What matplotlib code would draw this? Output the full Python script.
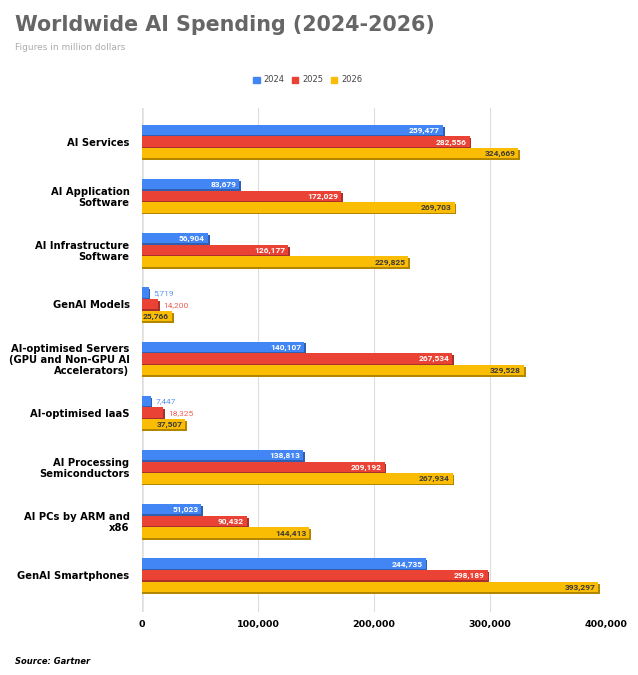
import numpy as np
import matplotlib
matplotlib.use("Agg")
import matplotlib.pyplot as plt
from matplotlib.patches import Patch

# dados (milhões de dólares)
categories = [
    "AI Services",
    "AI Application\nSoftware",
    "AI Infrastructure\nSoftware",
    "GenAI Models",
    "AI-optimised Servers\n(GPU and Non-GPU AI\nAccelerators)",
    "AI-optimised IaaS",
    "AI Processing\nSemiconductors",
    "AI PCs by ARM and\nx86",
    "GenAI Smartphones",
]
years = ["2024", "2025", "2026"]
spend_2024 = [259477, 83679, 56904, 5719, 140107, 7447, 138813, 51023, 244735]
spend_2025 = [282556, 172029, 126177, 14200, 267534, 18325, 209192, 90432, 298189]
spend_2026 = [324669, 269703, 229825, 25766, 329528, 37507, 267934, 144413, 393297]
x_ticks = [0, 100000, 200000, 300000, 400000]

colors = ["#4285F4", "#EA4335", "#FBBC04"]
shadow_colors = ["#2f5fae", "#a8302a", "#b38600"]
label_colors = ["white", "white", "#3a3a3a"]
out_colors = ["#5b93f5", "#ee5f55", "#3a3a3a"]

fig = plt.figure(figsize=(6.38, 6.75), dpi=100)
ax = fig.add_axes([0.2226, 0.0933, 0.7268, 0.7467])

y = np.arange(len(categories))
pitch = 0.215
bh = 0.19
dx, dy = 1500, 0.035

series = [spend_2024, spend_2025, spend_2026]
for i, vals in enumerate(series):
    pos = y + (i - 1) * pitch
    # sombra "3D"
    ax.barh(pos + dy, [v + dx for v in vals], height=bh, color=shadow_colors[i],
            left=0, zorder=2)
    ax.barh(pos, vals, height=bh, color=colors[i], zorder=3)
    for p, v in zip(pos, vals):
        txt = f"{v:,}"
        if v > 22000:
            ax.text(v - 2500, p + 0.01, txt, ha="right", va="center", fontsize=6,
                    family="Roboto", color=label_colors[i], fontweight="bold", zorder=4)
        else:
            ax.text(v + 4000, p + 0.01, txt, ha="left", va="center", fontsize=6,
                    family="Roboto", color=out_colors[i], zorder=4)

ax.set_xlim(0, 400000)
ax.set_ylim(8.68, -0.62)
ax.set_xticks(x_ticks)
ax.set_xticklabels([f"{t:,}" for t in x_ticks], fontsize=6.8, fontweight="heavy")
ax.set_yticks(y)
ax.set_yticklabels(categories, fontsize=7.2, fontweight="heavy", linespacing=1.15)
ax.tick_params(axis="both", length=0)
ax.tick_params(axis="y", pad=9)
ax.tick_params(axis="x", pad=6)
ax.grid(axis="x", color="#dddddd", linewidth=0.8, zorder=0)
ax.axvline(0, color="#888888", linewidth=1, zorder=1)
for s in ax.spines.values():
    s.set_visible(False)

fig.text(15 / 638, 1 - 25 / 675, "Worldwide AI Spending (2024-2026)", fontsize=14.9,
         fontweight="heavy", color="#666666", va="center", ha="left")
fig.text(15 / 638, 1 - 48 / 675, "Figures in million dollars", fontsize=6.5,
         color="#aaaaaa", va="center", ha="left")
fig.text(15 / 638, 1 - 661 / 675, "Source: Gartner", fontsize=6,
         fontweight="heavy", style="italic", color="black", va="center", ha="left")

handles = [Patch(color=c, label=yr) for c, yr in zip(colors, years)]
fig.legend(handles=handles, loc="center", bbox_to_anchor=(308 / 638, 1 - 80 / 675),
           ncol=3, frameon=False, fontsize=6, handlelength=0.75, handleheight=0.75,
           columnspacing=0.9, handletextpad=0.5, labelcolor="#444444")

fig.savefig("out.png", dpi=100)
